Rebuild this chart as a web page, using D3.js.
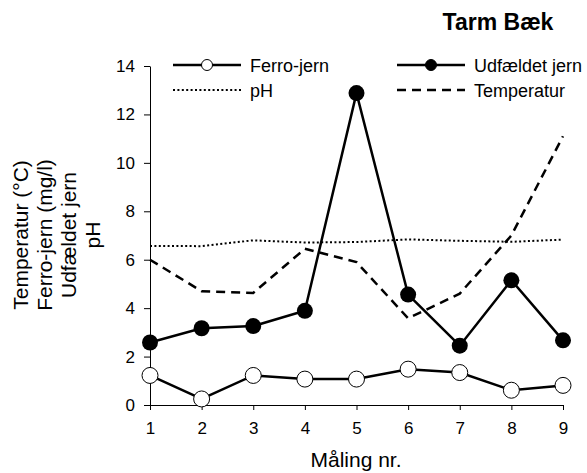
<!DOCTYPE html>
<html>
<head>
<meta charset="utf-8">
<script src="https://cdn.jsdelivr.net/npm/d3@7"></script>
<style>
  body { margin: 0; background: #fff; }
  text { font-family: "Liberation Sans", Arial, sans-serif; }
</style>
</head>
<body>
<div id="container"></div>
<script>
// data
let maaling = [1, 2, 3, 4, 5, 6, 7, 8, 9];
let ferroJern = [1.22, 0.25, 1.22, 1.07, 1.07, 1.48, 1.34, 0.61, 0.81];
let udfaeldetJern = [2.58, 3.17, 3.26, 3.89, 12.88, 4.56, 2.45, 5.15, 2.67];
let pH = [6.57, 6.56, 6.8, 6.71, 6.73, 6.84, 6.78, 6.74, 6.83];
let temperatur = [6.0, 4.7, 4.63, 6.45, 5.9, 3.58, 4.6, 7.0, 11.1];
let yTicks = [0, 2, 4, 6, 8, 10, 12, 14];

let w = 587;
let h = 473;

let viz = d3.select("#container")
  .append("svg")
    .attr("width", w)
    .attr("height", h)
;

let xScale = d3.scaleLinear().domain([1, 9]).range([150, 563]);
let yScale = d3.scaleLinear().domain([0, 14]).range([405, 66]);

// axes
let xAxis = d3.axisBottom(xScale).tickValues(maaling).tickFormat(d3.format("d")).tickSize(5).tickSizeOuter(0);
let xAxisGroup = viz.append("g").attr("transform", "translate(0," + yScale(0) + ")").call(xAxis);
let yAxis = d3.axisLeft(yScale).tickValues(yTicks).tickSize(6).tickSizeOuter(0);
let yAxisGroup = viz.append("g").attr("transform", "translate(" + xScale(1) + ",0)").call(yAxis);

[xAxisGroup, yAxisGroup].forEach(function(g){
  g.select(".domain").attr("stroke", "#000").attr("stroke-width", 1);
  g.selectAll(".tick line").attr("stroke", "#000");
  g.selectAll("text").attr("font-size", 17).attr("fill", "#000")
    .style("font-family", "'Liberation Sans', Arial, sans-serif");
});
xAxisGroup.selectAll("text").attr("y", 17);
yAxisGroup.selectAll("text").attr("x", -15);

// axis titles
viz.append("text").attr("x", 356).attr("y", 467).attr("text-anchor", "middle")
  .attr("font-size", 21).text("Måling nr.");

let yLabels = ["Temperatur (°C)", "Ferro-jern (mg/l)", "Udfældet jern", "pH"];
viz.append("g").selectAll("text").data(yLabels).enter().append("text")
  .attr("transform", function(d, i){ return "translate(" + (28 + i * 24) + ",235) rotate(-90)"; })
  .attr("text-anchor", "middle")
  .attr("font-size", 21)
  .text(function(d){ return d; });

// title
viz.append("text").attr("x", 498).attr("y", 30).attr("text-anchor", "middle")
  .attr("font-size", 23).attr("font-weight", "bold").text("Tarm Bæk");

// lines
function lineFor(values){
  return d3.line()
    .x(function(d, i){ return xScale(maaling[i]); })
    .y(function(d){ return yScale(d); })(values);
}

viz.append("path").attr("d", lineFor(pH)).attr("fill", "none")
  .attr("stroke", "#000").attr("stroke-width", 2).attr("stroke-dasharray", "2,2.4");
viz.append("path").attr("d", lineFor(temperatur)).attr("fill", "none")
  .attr("stroke", "#000").attr("stroke-width", 2.5).attr("stroke-dasharray", "9,6");
viz.append("path").attr("d", lineFor(udfaeldetJern)).attr("fill", "none")
  .attr("stroke", "#000").attr("stroke-width", 2.5);
viz.append("path").attr("d", lineFor(ferroJern)).attr("fill", "none")
  .attr("stroke", "#000").attr("stroke-width", 2.5);

viz.append("g").selectAll("circle").data(udfaeldetJern).enter().append("circle")
  .attr("cx", function(d, i){ return xScale(maaling[i]); })
  .attr("cy", function(d){ return yScale(d); })
  .attr("r", 8).attr("fill", "#000");

viz.append("g").selectAll("circle").data(ferroJern).enter().append("circle")
  .attr("cx", function(d, i){ return xScale(maaling[i]); })
  .attr("cy", function(d){ return yScale(d); })
  .attr("r", 8).attr("fill", "#fff").attr("stroke", "#000").attr("stroke-width", 1);

// legend
let legend = [
  {name: "Ferro-jern", x: 173, y: 65, dash: null, marker: "open"},
  {name: "Udfældet jern", x: 397, y: 65, dash: null, marker: "filled"},
  {name: "pH", x: 173, y: 90, dash: "2,2.4", marker: null},
  {name: "Temperatur", x: 397, y: 90, dash: "9,6", marker: null}
];
let lg = viz.append("g").selectAll("g").data(legend).enter().append("g")
  .attr("transform", function(d){ return "translate(" + d.x + "," + d.y + ")"; });
lg.append("line").attr("x1", 0).attr("x2", 68).attr("y1", 0).attr("y2", 0)
  .attr("stroke", "#000")
  .attr("stroke-width", function(d){ return d.dash == "2,2.4" ? 2 : 2.5; })
  .attr("stroke-dasharray", function(d){ return d.dash; });
lg.filter(function(d){ return d.marker; }).append("circle")
  .attr("cx", 34).attr("cy", 0).attr("r", 5.5)
  .attr("fill", function(d){ return d.marker == "open" ? "#fff" : "#000"; })
  .attr("stroke", "#000").attr("stroke-width", 1);
lg.append("text").attr("x", 77).attr("y", 6.5).attr("font-size", 18)
  .text(function(d){ return d.name; });
</script>
</body>
</html>
